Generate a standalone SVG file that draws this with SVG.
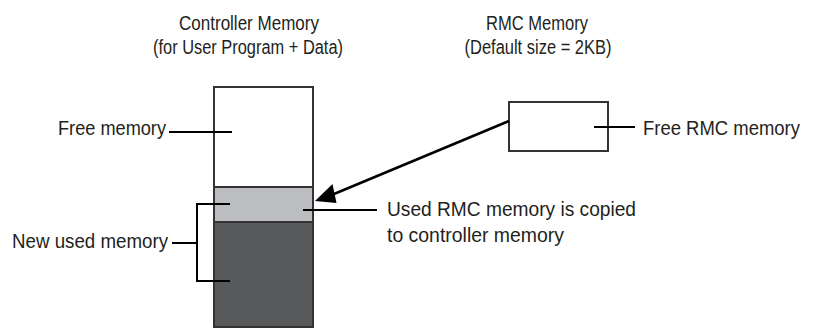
<svg xmlns="http://www.w3.org/2000/svg" width="813" height="328" viewBox="0 0 813 328">
<style>
text{font-family:"Liberation Sans",Arial,sans-serif;font-size:19.5px;fill:#231f20}
.ln{stroke:#000;stroke-width:2;fill:none}
.box{stroke:#333;stroke-width:2}
</style>
<rect width="813" height="328" fill="#fff"/>
<g id="headers">
<text x="249" y="30" text-anchor="middle" textLength="140" lengthAdjust="spacingAndGlyphs">Controller Memory</text>
<text x="248" y="54" text-anchor="middle" textLength="190" lengthAdjust="spacingAndGlyphs">(for User Program + Data)</text>
<text x="537" y="30" text-anchor="middle" textLength="102" lengthAdjust="spacingAndGlyphs">RMC Memory</text>
<text x="538" y="54" text-anchor="middle" textLength="147" lengthAdjust="spacingAndGlyphs">(Default size = 2KB)</text>
</g>
<g id="controller-memory">
<rect class="box" x="214" y="87" width="99" height="100" fill="#fff"/>
<rect class="box" x="214" y="187" width="99" height="35" fill="#bcbdc0"/>
<rect class="box" x="214" y="222" width="99" height="105" fill="#58595b"/>
</g>
<g id="rmc-memory">
<rect class="box" x="509" y="102" width="99" height="49" fill="#fff"/>
</g>
<g id="labels">
<text x="58" y="135" textLength="108" lengthAdjust="spacingAndGlyphs">Free memory</text>
<text x="12" y="248" textLength="156" lengthAdjust="spacingAndGlyphs">New used memory</text>
<text x="643" y="135" textLength="157" lengthAdjust="spacingAndGlyphs">Free RMC memory</text>
<text x="387" y="216" textLength="249" lengthAdjust="spacingAndGlyphs">Used RMC memory is copied</text>
<text x="387" y="242" textLength="177" lengthAdjust="spacingAndGlyphs">to controller memory</text>
</g>
<g id="connectors">
<line class="ln" x1="169" y1="132" x2="232" y2="132"/>
<line class="ln" x1="172" y1="243" x2="197" y2="243"/>
<polyline class="ln" points="230,204 197,204 197,281 230,281"/>
<line class="ln" x1="303" y1="210" x2="377" y2="210"/>
<line class="ln" x1="594" y1="127" x2="635" y2="127"/>
<line x1="509" y1="121" x2="334" y2="194" stroke="#000" stroke-width="2.5"/>
<path d="M315,201 L332.5,184 L336.5,203 z" fill="#000"/>
</g>
</svg>
